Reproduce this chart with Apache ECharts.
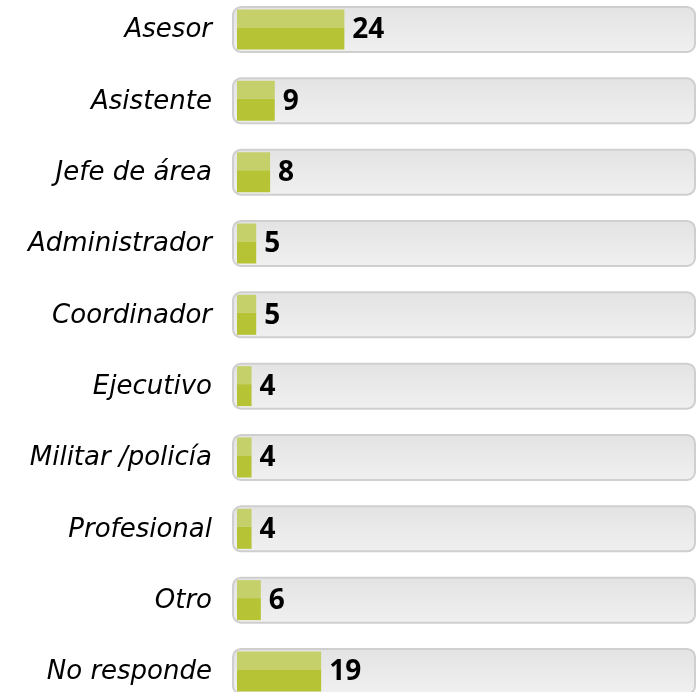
<!DOCTYPE html>
<html><head><meta charset="utf-8">
<script src="https://cdn.jsdelivr.net/npm/echarts@6/dist/echarts.min.js"></script>
<style>html,body{margin:0;padding:0;background:#fff}#c{width:700px;height:692px}</style>
</head><body><div id="c"></div>
<script>
const categories = ["Asesor","Asistente","Jefe de área","Administrador","Coordinador","Ejecutivo","Militar /policía","Profesional","Otro","No responde"];
const values = [24, 9, 8, 5, 5, 4, 4, 4, 6, 19];
const axisMax = 100;

const chart = echarts.init(document.getElementById('c'), null, {renderer:'canvas'});
const data = values.map((v,i)=>[v,i]);

function renderItem(params, api){
  const v = api.value(0), idx = api.value(1);
  const p0 = api.coord([0, idx]);
  const pMax = api.coord([axisMax, idx]);
  const pV = api.coord([v, idx]);
  const h = 45;
  const top = p0[1] - h/2;
  const tx = p0[0];
  const tw = pMax[0] - tx - 2;
  const gx = tx + 4;
  const gw = Math.max(0, pV[0] - gx);
  const gt = top + 2.5, gh = h - 5;
  return {
    type:'group',
    children:[
      {type:'rect', shape:{x:tx, y:top, width:tw, height:h, r:8},
       style:{fill:new echarts.graphic.LinearGradient(0,0,0,1,[{offset:0,color:'#e4e3e3'},{offset:1,color:'#f0f0f0'}]), stroke:'#cfcfcf', lineWidth:2}},
      {type:'rect', shape:{x:gx, y:gt, width:gw, height:gh/2-2}, style:{fill:'#c5d06b'}},
      {type:'rect', shape:{x:gx, y:gt+gh/2-2, width:gw, height:gh/2+2}, style:{fill:'#b5c334'}},
      {type:'text', x: pV[0] + 8, y: p0[1] + 1,
       style:{text:String(v), fill:'#000', font:'bold 28px "Open Sans"', verticalAlign:'middle', align:'left'}},
      {type:'text', x: tx - 21, y: p0[1] + 1,
       style:{text:categories[idx], fill:'#000', font:'oblique 26px "DejaVu Sans"', verticalAlign:'middle', align:'right'}}
    ]
  };
}

chart.setOption({
  animation:false,
  backgroundColor:'#fff',
  grid:{left:233, right:3, top:0, bottom:0, containLabel:false},
  xAxis:{type:'value', min:0, max:axisMax, show:false},
  yAxis:{type:'value', inverse:true, min:-0.4136, max:9.288, show:false},
  series:[{type:'custom', renderItem:renderItem, data:data, encode:{x:0,y:1}, clip:false}]
});
</script></body></html>
